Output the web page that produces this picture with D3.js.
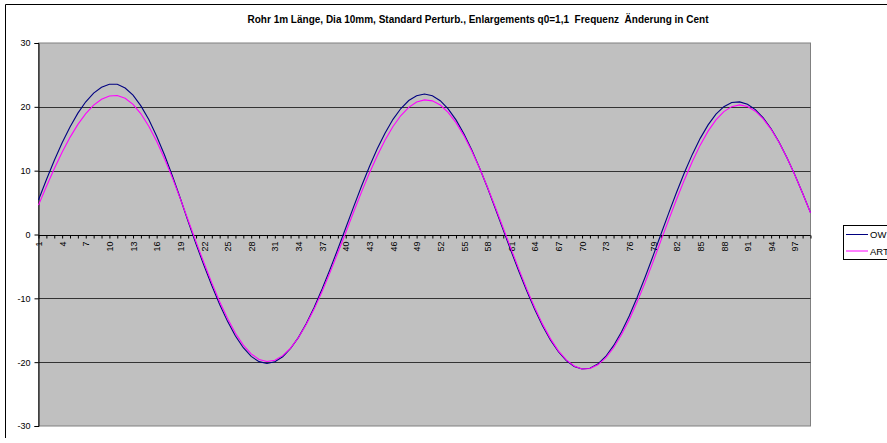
<!DOCTYPE html>
<html><head><meta charset="utf-8">
<script src="https://cdn.jsdelivr.net/npm/d3@7/dist/d3.min.js"></script>
<style>body{margin:0;background:#fff;overflow:hidden}svg{display:block;font-family:"Liberation Sans",Arial,sans-serif}</style>
</head><body><svg id="c" width="887" height="443"></svg>
<script>
const title = "Rohr 1m Länge, Dia 10mm, Standard Perturb., Enlargements q0=1,1  Frequenz  Änderung in Cent";
const categories = d3.range(1, 100).map(String);
const seriesNames = ["OW", "ART"];
const owValues = [5.41,8.58,11.59,14.36,16.85,19.01,20.79,22.15,23.07,23.54,
23.53,22.95,21.82,20.15,18.00,15.40,12.45,9.17,5.67,2.02,
-1.51,-4.82,-8.00,-10.96,-13.61,-15.90,-17.74,-19.10,-19.92,-20.20,
-19.94,-19.15,-17.86,-16.11,-13.93,-11.39,-8.54,-5.49,-2.28,1.01,
4.33,7.56,10.61,13.42,15.91,18.04,19.74,20.99,21.74,22.00,
21.74,20.96,19.69,17.96,15.79,13.26,10.40,7.32,4.04,0.68,
-2.62,-5.83,-8.90,-11.76,-14.33,-16.55,-18.37,-19.76,-20.67,-21.08,
-20.96,-20.30,-19.11,-17.42,-15.28,-12.72,-9.83,-6.70,-3.40,0.00,
3.35,6.62,9.71,12.55,15.06,17.17,18.85,20.02,20.67,20.78,
20.40,19.56,18.27,16.56,14.49,12.07,9.38,6.47,3.43];
const artValues = [4.60,7.53,10.31,12.89,15.22,17.25,18.93,20.26,21.18,21.70,
21.78,21.34,20.38,18.91,16.97,14.60,11.87,8.87,5.62,2.23,
-1.16,-4.43,-7.58,-10.52,-13.17,-15.46,-17.32,-18.70,-19.57,-19.90,
-19.69,-18.98,-17.79,-16.14,-14.07,-11.65,-8.92,-5.97,-2.86,0.32,
3.52,6.64,9.61,12.35,14.81,16.92,18.64,19.92,20.75,21.09,
20.94,20.28,19.13,17.52,15.49,13.09,10.38,7.39,4.24,0.99,
-2.29,-5.51,-8.60,-11.48,-14.08,-16.35,-18.23,-19.64,-20.60,-21.06,
-21.00,-20.42,-19.33,-17.75,-15.72,-13.30,-10.55,-7.54,-4.32,-1.00,
2.30,5.52,8.59,11.45,14.00,16.19,17.96,19.25,20.03,20.30,
20.05,19.32,18.12,16.48,14.44,12.05,9.35,6.45,3.40];
const yTicks = [-30,-20,-10,0,10,20,30];
const xTickLabels = categories.filter((d,i)=>i%3===0);
const colors = ["#000080","#FF00FF"];

const svg = d3.select("#c");
const L = 38.5, R = 810.5, T = 43, B = 426;
const x = d3.scalePoint().domain(categories).range([L, R]);
const y = d3.scaleLinear().domain([-30, 30]).range([B, T]);

// chart frame
svg.append("path").attr("d", "M5.5,438 V4.5 H900").attr("fill","none").attr("stroke","#000").attr("stroke-width",1);

// title
svg.append("text").attr("x", 478).attr("y", 23).attr("text-anchor","middle")
  .attr("font-size", 10).attr("font-weight","bold").style("white-space","pre").text(title);

// plot area
svg.append("rect").attr("x", L).attr("y", T).attr("width", R-L).attr("height", B-T)
  .attr("fill","#C0C0C0").attr("stroke","#808080").attr("stroke-width",1);

// gridlines
svg.append("g").selectAll("line").data(yTicks.filter(v=>v!==0 && v!==-30 && v!==30)).join("line")
  .attr("x1", L).attr("x2", R).attr("y1", d=>Math.round(y(d))+0.5).attr("y2", d=>Math.round(y(d))+0.5)
  .attr("stroke","#333").attr("stroke-width",1);

// y axis
const yAxis = d3.axisLeft(y).tickValues(yTicks).tickSize(4).tickPadding(4).tickFormat(d => String(d));
const gy = svg.append("g").attr("transform", `translate(${L},0)`).call(yAxis);
gy.select(".domain").attr("stroke","#000");
gy.selectAll(".tick line").attr("stroke","#000");
gy.selectAll("text").attr("font-size", 9).attr("fill","#000").style("font-family","Liberation Sans, Arial, sans-serif");

// x axis at 0
const xAxis = d3.axisBottom(x).tickValues(categories).tickSize(3).tickFormat(d => xTickLabels.includes(d) ? d : "");
const gx = svg.append("g").attr("transform", `translate(0,${Math.round(y(0))+0.5})`).call(xAxis);
gx.select(".domain").attr("stroke","#000").attr("d", `M${L},0H${R}`);
gx.selectAll(".tick line").attr("stroke","#000");
gx.selectAll("text").attr("font-size", 9).attr("fill","#000")
  .style("font-family","Liberation Sans, Arial, sans-serif")
  .attr("text-anchor","end").attr("dy","0.35em")
  .attr("transform","translate(0,6) rotate(-90)").attr("x",0).attr("y",0);

// lines
const line = d3.line().x((d,i)=>x(categories[i])).y(d=>y(d));
[owValues, artValues].forEach((vals, k) => {
  svg.append("path").datum(vals).attr("d", line).attr("fill","none")
    .attr("stroke", colors[k]).attr("stroke-width", 1.1);
});

// legend
const lg = svg.append("g");
lg.append("rect").attr("x", 843.5).attr("y", 225.5).attr("width", 80).attr("height", 34)
  .attr("fill","#fff").attr("stroke","#000");
seriesNames.forEach((n,k) => {
  const yy = 234.5 + k*16.5;
  lg.append("line").attr("x1", 846).attr("x2", 868).attr("y1", yy).attr("y2", yy).attr("stroke", colors[k]);
  lg.append("text").attr("x", 870).attr("y", yy+3.5).attr("font-size", 9.5).text(n);
});
</script></body></html>
